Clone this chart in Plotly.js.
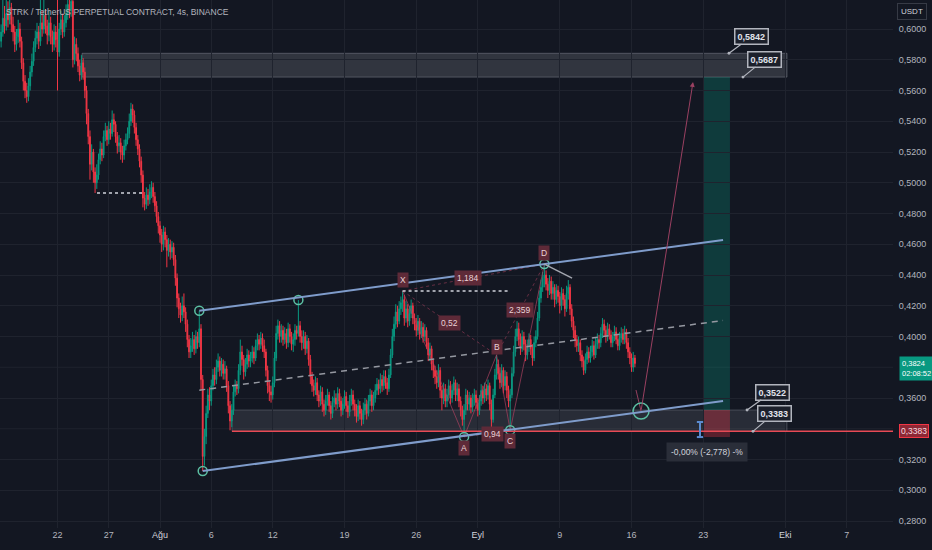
<!DOCTYPE html>
<html><head><meta charset="utf-8">
<script src="https://cdn.plot.ly/plotly-3.0.1.min.js"></script>
<style>html,body{margin:0;padding:0;background:#131722;}#c{width:932px;height:550px;}</style>
</head><body><div id="c"></div>
<script>
// ---- 4h candles, STRK/USDT, from 2024-07-16 12:00, one row per day ----
const firstCandle = '2024-07-16T12:00:00Z';
const candleHours = 4;
const O = [
.592,.598,.607,
.602,.610,.606,.614,.603,.598,
.590,.595,.600,.592,.578,.566,
.560,.556,.563,.572,.579,.588,
.594,.598,.592,.604,.600,.609,
.602,.596,.604,.595,.590,.598,
.593,.585,.600,.606,.598,.604,
.610,.616,.612,.618,.580,.590,
.584,.576,.570,.578,.572,.560,
.545,.530,.512,.520,.507,.500,
.505,.515,.522,.518,.530,.534,
.528,.535,.532,.541,.538,.530,
.524,.526,.520,.518,.524,.528,
.532,.540,.548,.544,.536,.528,
.522,.514,.505,.490,.486,.492,
.489,.494,.497,.491,.485,.478,
.472,.466,.460,.468,.463,.456,
.460,.455,.458,.450,.438,.425,
.418,.414,.420,.416,.408,.398,
.390,.394,.398,.392,.400,.396,
.405,.372,.322,.335,.350,.362,
.358,.368,.375,.372,.380,.384,
.378,.382,.376,.379,.368,.355,
.345,.352,.364,.368,.366,.378,
.390,.385,.377,.382,.388,.384,
.386,.390,.386,.394,.398,.395,
.399,.394,.390,.378,.368,.364,
.362,.370,.386,.402,.407,.400,
.404,.398,.402,.396,.405,.400,
.395,.398,.404,.402,.407,.400,
.396,.400,.392,.397,.385,.374,
.368,.365,.370,.362,.358,.364,
.356,.352,.358,.362,.355,.350,
.357,.360,.356,.363,.358,.352,
.356,.361,.355,.351,.358,.362,
.356,.352,.348,.355,.350,.346,
.352,.356,.350,.358,.362,.355,
.360,.365,.369,.366,.372,.368,
.374,.370,.366,.375,.388,.400,
.408,.416,.410,.418,.422,.424,
.412,.418,.410,.415,.420,.412,
.408,.404,.410,.402,.406,.400,
.404,.396,.388,.392,.382,.378,
.374,.370,.378,.365,.360,.366,
.358,.362,.368,.360,.365,.370,
.362,.366,.358,.352,.346,.352,
.362,.356,.360,.354,.359,.362,
.357,.352,.358,.365,.360,.366,
.362,.368,.356,.346,.362,.375,
.382,.376,.370,.378,.368,.374,
.365,.358,.362,.376,.390,.400,
.405,.398,.392,.400,.395,.388,
.394,.398,.392,.386,.396,.400,
.412,.425,.432,.438,.440,.434,
.430,.436,.428,.432,.424,.430,
.426,.420,.428,.424,.418,.428,
.432,.418,.410,.404,.398,.394,
.396,.388,.384,.378,.385,.390,
.386,.390,.394,.388,.395,.398,
.396,.402,.408,.404,.400,.405,
.401,.396,.400,.403,.398,.394,
.399,.402,.398,.403,.396,.390,
.386,.380,.386];
const H = [
.603,.622,.615,
.625,.618,.626,.617,.608,.602,
.600,.606,.604,.595,.581,.570,
.565,.568,.576,.584,.592,.599,
.604,.602,.620,.612,.624,.613,
.606,.612,.608,.599,.603,.602,
.625,.604,.612,.610,.609,.616,
.630,.628,.632,.622,.595,.594,
.588,.580,.583,.581,.575,.563,
.548,.534,.525,.522,.510,.512,
.519,.527,.526,.534,.539,.537,
.540,.539,.547,.545,.540,.533,
.531,.529,.524,.528,.532,.536,
.545,.552,.551,.547,.539,.531,
.525,.517,.508,.494,.497,.496,
.499,.501,.500,.494,.488,.481,
.475,.470,.472,.471,.466,.464,
.463,.462,.461,.453,.441,.428,
.422,.426,.428,.419,.411,.401,
.399,.403,.401,.404,.403,.4167,
.408,.375,.340,.355,.366,.367,
.372,.379,.380,.385,.389,.387,
.386,.385,.384,.381,.371,.358,
.356,.368,.372,.371,.382,.398,
.394,.388,.386,.392,.391,.390,
.394,.393,.398,.402,.401,.403,
.402,.398,.392,.381,.371,.368,
.374,.390,.407,.411,.410,.408,
.407,.406,.405,.409,.408,.403,
.402,.408,.407,.4237,.410,.404,
.404,.403,.401,.399,.388,.377,
.372,.374,.373,.365,.368,.367,
.359,.362,.366,.364,.358,.361,
.365,.363,.367,.366,.361,.360,
.365,.364,.358,.362,.366,.365,
.359,.356,.359,.358,.353,.357,
.360,.359,.362,.366,.365,.364,
.369,.373,.372,.376,.375,.378,
.378,.373,.379,.392,.405,.413,
.421,.420,.423,.426,.4296,.427,
.423,.421,.420,.424,.422,.415,
.412,.414,.412,.410,.409,.408,
.406,.399,.396,.394,.385,.381,
.378,.382,.380,.368,.370,.369,
.366,.372,.371,.369,.374,.372,
.370,.369,.361,.355,.356,.366,
.365,.364,.362,.363,.366,.365,
.360,.362,.369,.368,.370,.369,
.372,.370,.359,.366,.379,.388,
.385,.380,.382,.380,.378,.377,
.368,.366,.380,.394,.405,.410,
.409,.402,.404,.403,.398,.398,
.402,.401,.395,.400,.404,.416,
.430,.437,.442,.4471,.443,.438,
.440,.439,.436,.434,.434,.433,
.429,.432,.431,.427,.433,.4367,
.434,.421,.413,.407,.401,.400,
.398,.391,.387,.389,.394,.393,
.394,.398,.397,.399,.402,.401,
.406,.412,.411,.407,.409,.408,
.404,.403,.407,.406,.401,.403,
.406,.405,.407,.405,.399,.393,
.389,.390,.388];
const L = [
.588,.595,.597,
.599,.601,.603,.598,.592,.585,
.586,.591,.588,.574,.560,.555,
.552,.553,.560,.569,.576,.585,
.590,.587,.589,.595,.597,.597,
.590,.592,.590,.585,.586,.588,
.560,.582,.596,.594,.595,.601,
.606,.607,.608,.575,.577,.579,
.572,.566,.567,.567,.555,.538,
.525,.502,.508,.500,.4933,.496,
.502,.512,.514,.516,.527,.524,
.525,.528,.530,.533,.526,.519,
.520,.515,.513,.515,.521,.525,
.529,.537,.539,.532,.524,.518,
.510,.500,.484,.482,.483,.485,
.486,.490,.487,.481,.474,.467,
.461,.455,.456,.458,.445,.452,
.450,.451,.446,.433,.419,.412,
.409,.410,.412,.403,.393,.386,
.386,.390,.388,.389,.392,.393,
.365,.3125,.316,.330,.347,.352,
.355,.365,.368,.369,.377,.374,
.374,.372,.372,.364,.350,.339,
.341,.349,.361,.362,.363,.375,
.381,.372,.374,.379,.380,.380,
.383,.382,.384,.391,.391,.392,
.390,.386,.374,.363,.358,.357,
.359,.367,.384,.398,.396,.396,
.394,.395,.392,.393,.396,.391,
.390,.394,.398,.400,.396,.391,
.392,.388,.389,.381,.369,.364,
.361,.362,.358,.354,.355,.351,
.348,.349,.355,.351,.346,.347,
.354,.352,.353,.354,.348,.349,
.353,.351,.347,.348,.355,.352,
.348,.344,.345,.346,.342,.343,
.349,.346,.348,.355,.351,.352,
.357,.362,.362,.363,.364,.365,
.366,.362,.364,.373,.386,.397,
.405,.406,.408,.414,.416,.407,
.409,.406,.407,.412,.408,.404,
.400,.401,.398,.399,.396,.397,
.392,.384,.384,.378,.373,.369,
.366,.367,.360,.352,.356,.354,
.354,.359,.356,.357,.362,.358,
.358,.354,.348,.342,.3347,.349,
.352,.352,.350,.351,.355,.353,
.348,.349,.355,.356,.357,.358,
.359,.352,.341,.344,.360,.372,
.372,.366,.367,.363,.365,.360,
.354,.339,.360,.374,.387,.397,
.394,.388,.390,.391,.384,.385,
.390,.388,.381,.384,.393,.398,
.410,.422,.429,.432,.430,.425,
.427,.424,.424,.419,.421,.422,
.415,.417,.420,.413,.416,.424,
.414,.406,.399,.393,.390,.390,
.384,.380,.375,.376,.382,.383,
.383,.387,.385,.386,.392,.392,
.393,.399,.400,.396,.397,.398,
.393,.393,.397,.395,.391,.391,
.396,.395,.395,.392,.386,.382,
.377,.377,.380];
const C = [
.598,.607,.602,
.610,.606,.614,.603,.598,.590,
.595,.600,.592,.578,.566,.560,
.556,.563,.572,.579,.588,.594,
.598,.592,.604,.600,.609,.602,
.596,.604,.595,.590,.598,.593,
.585,.600,.606,.598,.604,.610,
.616,.612,.618,.580,.590,.584,
.576,.570,.578,.572,.560,.545,
.530,.512,.520,.507,.500,.505,
.515,.522,.518,.530,.534,.528,
.535,.532,.541,.538,.530,.524,
.526,.520,.518,.524,.528,.532,
.540,.548,.544,.536,.528,.522,
.514,.505,.490,.486,.492,.489,
.494,.497,.491,.485,.478,.472,
.466,.460,.468,.463,.456,.460,
.455,.458,.450,.438,.425,.418,
.414,.420,.416,.408,.398,.390,
.394,.398,.392,.400,.396,.405,
.372,.322,.335,.350,.362,.358,
.368,.375,.372,.380,.384,.378,
.382,.376,.379,.368,.355,.345,
.352,.364,.368,.366,.378,.390,
.385,.377,.382,.388,.384,.386,
.390,.386,.394,.398,.395,.399,
.394,.390,.378,.368,.364,.362,
.370,.386,.402,.407,.400,.404,
.398,.402,.396,.405,.400,.395,
.398,.404,.402,.407,.400,.396,
.400,.392,.397,.385,.374,.368,
.365,.370,.362,.358,.364,.356,
.352,.358,.362,.355,.350,.357,
.360,.356,.363,.358,.352,.356,
.361,.355,.351,.358,.362,.356,
.352,.348,.355,.350,.346,.352,
.356,.350,.358,.362,.355,.360,
.365,.369,.366,.372,.368,.374,
.370,.366,.375,.388,.400,.408,
.416,.410,.418,.422,.424,.412,
.418,.410,.415,.420,.412,.408,
.404,.410,.402,.406,.400,.404,
.396,.388,.392,.382,.378,.374,
.370,.378,.365,.360,.366,.358,
.362,.368,.360,.365,.370,.362,
.366,.358,.352,.346,.352,.362,
.356,.360,.354,.359,.362,.357,
.352,.358,.365,.360,.366,.362,
.368,.356,.346,.362,.375,.382,
.376,.370,.378,.368,.374,.365,
.358,.362,.376,.390,.400,.405,
.398,.392,.400,.395,.388,.394,
.398,.392,.386,.396,.400,.412,
.425,.432,.438,.440,.434,.430,
.436,.428,.432,.424,.430,.426,
.420,.428,.424,.418,.428,.432,
.418,.410,.404,.398,.394,.396,
.388,.384,.378,.385,.390,.386,
.390,.394,.388,.395,.398,.396,
.402,.408,.404,.400,.405,.401,
.396,.400,.403,.398,.394,.399,
.402,.398,.403,.396,.390,.386,
.380,.386,.3824];

// ---- axis ticks ----
const xTickDates = ['2024-07-22','2024-07-27','2024-08-01','2024-08-06','2024-08-12','2024-08-19','2024-08-26','2024-09-01','2024-09-09','2024-09-16','2024-09-23','2024-10-01','2024-10-07'];
const xTickText  = ['22','27','<span style="color:#d1d4dc">Ağu</span>','6','12','19','26','<span style="color:#d1d4dc">Eyl</span>','9','16','23','<span style="color:#d1d4dc">Eki</span>','7'];
const yTickVals  = [0.28,0.30,0.32,0.36,0.40,0.42,0.44,0.46,0.48,0.50,0.52,0.54,0.56,0.58,0.60]; // 0,3400 and 0,3800 hidden behind price labels
const yGridVals  = [0.34,0.38];
const xRange = ['2024-07-16 09:22','2024-10-11 12:16'];
const yRange = [0.27545, 0.61886];

// ---- drawing levels ----
const upperZone = [0.5687, 0.5842];
const lowerZone = [0.3383, 0.3522];
const stopLevel = 0.3346;
const oldLow = 0.4933;
const lastPrice = 0.3824;
const countdown = '02:08:52';

// channel (start date, start price, end date, end price)
const chUpper = ['2024-08-04 20:00', 0.4167, '2024-09-24 22:20', 0.4628];
const chLower = ['2024-08-05 04:00', 0.3125, '2024-09-24 22:20', 0.3581];
const chMid   = ['2024-08-04 20:00', 0.3651, '2024-09-24 22:20', 0.4104];

// XABCD
const patNames  = ['X','A','B','C','D'];
const patDates  = ['2024-08-24 16:00','2024-08-30 16:00','2024-09-02 20:00','2024-09-04 04:00','2024-09-07 12:00'];
const patPrices = [0.4296, 0.3347, 0.388, 0.339, 0.4471];
const patRatios = ['0,52','0,94','2,359','1,184'];   // XB, AC, BD, XD

// touch circles
const touchDates  = ['2024-08-04 20:00','2024-08-14 12:00','2024-08-05 04:00','2024-08-30 16:00','2024-09-04 04:00','2024-09-07 12:00'];
const touchPrices = [0.4167, 0.4237, 0.3125, 0.3347, 0.339, 0.4471];

// projection path
const projDates  = ['2024-09-16 10:30','2024-09-16 22:20','2024-09-22 00:00'];
const projPrices = [0.3652, 0.3515, 0.5655];

const times = O.map((_, i) => new Date(Date.parse(firstCandle) + i*candleHours*3600e3).toISOString().slice(0,16).replace('T',' '));

const FONT = 'Liberation Sans, Arial, sans-serif';
const TXT = '#b2b5be';

const traces = [];
// XABCD faint fills
traces.push({x:[patDates[0],patDates[1],patDates[2],patDates[0]], y:[patPrices[0],patPrices[1],patPrices[2],patPrices[0]], mode:'lines', fill:'toself', fillcolor:'rgba(150,55,80,0.035)', line:{width:0}, hoverinfo:'skip'});
traces.push({x:[patDates[2],patDates[3],patDates[4],patDates[2]], y:[patPrices[2],patPrices[3],patPrices[4],patPrices[2]], mode:'lines', fill:'toself', fillcolor:'rgba(150,55,80,0.035)', line:{width:0}, hoverinfo:'skip'});
// candles
traces.push({type:'candlestick', x:times, open:O, high:H, low:L, close:C, hoverinfo:'skip',
  increasing:{line:{color:'#089981', width:1}, fillcolor:'#089981'},
  decreasing:{line:{color:'#f23645', width:1}, fillcolor:'#f23645'}, whiskerwidth:0});
// XABCD legs
traces.push({x:patDates, y:patPrices, mode:'lines', line:{color:'rgba(170,65,95,0.7)', width:1}, hoverinfo:'skip'});
const ratioPairs = [[0,2],[1,3],[2,4],[0,4]];
ratioPairs.forEach(p => traces.push({x:[patDates[p[0]],patDates[p[1]]], y:[patPrices[p[0]],patPrices[p[1]]], mode:'lines', line:{color:'rgba(170,65,95,0.55)', width:1, dash:'dot'}, hoverinfo:'skip'}));
// projection
traces.push({x:projDates.slice(0,2), y:projPrices.slice(0,2), mode:'lines', line:{color:'rgba(170,70,105,0.85)', width:1}, hoverinfo:'skip'});
// touch circles
traces.push({x:touchDates, y:touchPrices, mode:'markers', marker:{symbol:'circle-open', size:9, color:'#5cc0a4', line:{width:1.5}}, hoverinfo:'skip'});
traces.push({x:[projDates[1]], y:[projPrices[1]], mode:'markers', marker:{symbol:'circle-open', size:16, color:'#5cc0a4', line:{width:1.5}}, hoverinfo:'skip'});

const shapes = [
  // hidden-label grid lines
  ...yGridVals.map(v => ({type:'line', xref:'paper', yref:'y', x0:0, x1:1, y0:v, y1:v, line:{color:'#1f232e', width:1}, layer:'below'})),
  // upper gray zone
  {type:'rect', xref:'x', yref:'y', x0:'2024-07-24 09:20', x1:'2024-10-01 04:00', y0:upperZone[0], y1:upperZone[1], fillcolor:'rgba(120,123,134,0.30)', line:{color:'rgba(140,143,154,0.45)', width:1}, layer:'below'},
  // lower gray zone
  {type:'rect', xref:'x', yref:'y', x0:'2024-08-08 00:30', x1:'2024-10-01 04:00', y0:lowerZone[0], y1:lowerZone[1], fillcolor:'rgba(120,123,134,0.22)', line:{color:'rgba(140,143,154,0.35)', width:1}, layer:'below'},
  // long position target / stop
  {type:'rect', xref:'x', yref:'y', x0:'2024-09-23 00:00', x1:'2024-09-25 14:30', y0:lowerZone[1], y1:upperZone[0], fillcolor:'rgba(8,153,129,0.28)', line:{width:0}, layer:'below'},
  {type:'rect', xref:'x', yref:'y', x0:'2024-09-23 00:00', x1:'2024-09-25 14:30', y0:stopLevel, y1:lowerZone[1], fillcolor:'rgba(242,54,69,0.32)', line:{width:0}, layer:'below'},
  // red horizontal line
  {type:'line', xref:'x', yref:'y', x0:'2024-08-08 00:30', x1:'2024-10-20 00:00', y0:lowerZone[0], y1:lowerZone[0], line:{color:'#e84a55', width:1.5}},
  // channel
  {type:'line', xref:'x', yref:'y', x0:chUpper[0], y0:chUpper[1], x1:chUpper[2], y1:chUpper[3], line:{color:'#7f9ccb', width:2}},
  {type:'line', xref:'x', yref:'y', x0:chLower[0], y0:chLower[1], x1:chLower[2], y1:chLower[3], line:{color:'#7f9ccb', width:2}},
  {type:'line', xref:'x', yref:'y', x0:chMid[0], y0:chMid[1], x1:chMid[2], y1:chMid[3], line:{color:'#9598a1', width:1.5, dash:'6px,5px'}},
  // dotted line from X
  {type:'line', xref:'x', yref:'y', x0:patDates[0], x1:'2024-09-04 03:30', y0:patPrices[0], y1:patPrices[0], line:{color:'#d1d4dc', width:1.5, dash:'3px,3px'}},
  // D trendline
  {type:'line', xref:'x', yref:'y', x0:patDates[4], y0:patPrices[4], x1:'2024-09-10 04:50', y1:0.438, line:{color:'#a3a6af', width:1.5}},
  // old low dashed
  {type:'line', xref:'x', yref:'y', x0:'2024-07-25 20:30', x1:'2024-07-30 13:00', y0:oldLow, y1:oldLow, line:{color:'#d1d4dc', width:1.5, dash:'3px,3px'}},
  // measure I-beam
  {type:'line', xref:'x', yref:'y', x0:'2024-09-22 16:20', x1:'2024-09-22 16:20', y0:0.3346, y1:0.3444, line:{color:'#5b8bd0', width:2}},
  {type:'line', xref:'x', yref:'y', x0:'2024-09-22 09:00', x1:'2024-09-22 23:40', y0:0.3444, y1:0.3444, line:{color:'#5b8bd0', width:2}},
  {type:'line', xref:'x', yref:'y', x0:'2024-09-22 09:00', x1:'2024-09-22 23:40', y0:0.3346, y1:0.3346, line:{color:'#5b8bd0', width:2}}
];

const callout = (x, y, txt, ax, ay) => ({x, y, xref:'x', yref:'y', text:'<b>'+txt+'</b>', showarrow:true, ax, ay, arrowhead:6, arrowsize:0.6, arrowwidth:1.2, arrowcolor:'#b2b5be',
  bgcolor:'#1c202b', bordercolor:'#b2b5be', borderwidth:1.5, borderpad:2, font:{family:FONT, size:9, color:'#e0e3eb'}});
const patLabel = (x, y, txt, ys) => ({x, y, xref:'x', yref:'y', text:txt, showarrow:false, yshift:ys, bgcolor:'#5e2a38', borderpad:2, font:{family:FONT, size:8.5, color:'#ead2d7'}});

const annotations = [
  {xref:'paper', yref:'paper', x:0.004, y:1-12/528, xanchor:'left', yanchor:'middle', text:'STRK / TetherUS PERPETUAL CONTRACT, 4s, BINANCE', showarrow:false, font:{family:FONT, size:8.5, color:TXT}},
  {xref:'paper', yref:'paper', x:912/893, y:1-12/528, xanchor:'center', yanchor:'middle', text:'USDT', showarrow:false, bgcolor:'#131722', bordercolor:'#363a45', borderwidth:1, borderpad:3, font:{family:FONT, size:8, color:'#d1d4dc'}},
  callout('2024-09-25 12:15', upperZone[1], '0,5842', 23, -17),
  callout('2024-09-26 21:00', upperZone[0], '0,5687', 22, -18),
  callout('2024-09-27 06:30', lowerZone[1], '0,3522', 25, -18),
  callout('2024-09-27 20:30', lowerZone[0], '0,3383', 21, -18),
  {x:'2024-09-23 08:50', y:0.3249, xref:'x', yref:'y', text:'-0,00% (-2,778) -%', showarrow:false, bgcolor:'#2a2e39', borderpad:4, font:{family:FONT, size:8.5, color:'#d1d4dc'}},
  // projection arrow
  {x:projDates[2], y:projPrices[2], xref:'x', yref:'y', ax:projDates[1], ay:projPrices[1], axref:'x', ayref:'y', text:'', showarrow:true, arrowhead:2, arrowsize:1, arrowwidth:1, arrowcolor:'rgba(170,70,105,0.9)'},
  // XABCD labels
  patLabel(patDates[0], patPrices[0], patNames[0], 11),
  patLabel(patDates[1], patPrices[1], patNames[1], -11),
  patLabel(patDates[2], patPrices[2], patNames[2], 8),
  patLabel(patDates[3], patPrices[3], patNames[3], -11),
  patLabel(patDates[4], patPrices[4], patNames[4], 11),
  patLabel('2024-08-29 06:00', (patPrices[0]+patPrices[2])/2, patRatios[0], 0),
  patLabel('2024-09-02 10:00', (patPrices[1]+patPrices[3])/2, patRatios[1], 0),
  patLabel('2024-09-05 04:00', (patPrices[2]+patPrices[4])/2, patRatios[2], 0),
  patLabel('2024-08-31 02:00', (patPrices[0]+patPrices[4])/2, patRatios[3], 0),
  // price axis labels
  {xref:'paper', yref:'y', x:1, y:lastPrice, xanchor:'left', yanchor:'middle', xshift:6, yshift:-5, text:'0,3824<br>'+countdown, showarrow:false, align:'left', bgcolor:'#089981', borderpad:2, font:{family:FONT, size:7.5, color:'#ffffff'}},
  {xref:'paper', yref:'y', x:1, y:lowerZone[0], xanchor:'left', yanchor:'middle', xshift:6, text:'0,3383', showarrow:false, bgcolor:'rgba(242,54,69,0.55)', bordercolor:'#f23645', borderwidth:1, borderpad:1, font:{family:FONT, size:8.5, color:'#f9dde0'}}
];

const layout = {
  width:932, height:550, paper_bgcolor:'#131722', plot_bgcolor:'#131722',
  margin:{l:0, r:39, t:0, b:22}, showlegend:false, separators:',.',
  font:{family:FONT, color:TXT, size:9},
  xaxis:{type:'date', range:xRange, tickvals:xTickDates, ticktext:xTickText, showgrid:true, gridcolor:'#1f232e', zeroline:false, showline:false, ticks:'', rangeslider:{visible:false}, tickfont:{family:FONT, size:9, color:TXT}, fixedrange:true},
  yaxis:{side:'right', range:yRange, tickvals:yTickVals, tickformat:'.4f', showgrid:true, gridcolor:'#1f232e', zeroline:false, showline:false, ticks:'outside', ticklen:3, tickcolor:'rgba(0,0,0,0)', tickfont:{family:FONT, size:9, color:TXT}, fixedrange:true},
  shapes, annotations
};

Plotly.newPlot('c', traces, layout, {displayModeBar:false, staticPlot:true});
</script>
</body></html>
